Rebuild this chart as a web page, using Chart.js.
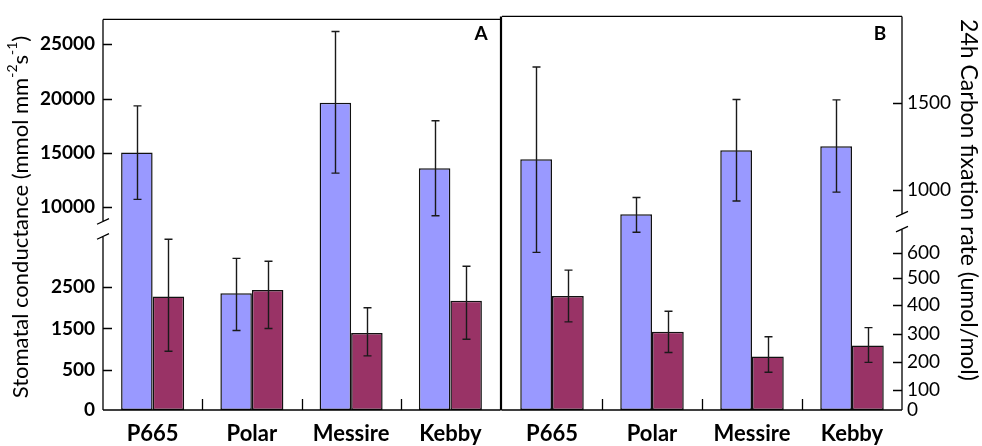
<!DOCTYPE html>
<html>
<head>
<meta charset="utf-8">
<script src="https://cdn.jsdelivr.net/npm/chart.js@4/dist/chart.umd.min.js"></script>
<style>
  html, body { margin: 0; padding: 0; background: #fff; }
  #wrap { position: relative; width: 982px; height: 446px; overflow: hidden; }
  canvas { position: absolute; top: 0; }
  #chartA { left: 0; }
  #chartB { left: 480px; }
</style>
</head>
<body>
<div id="wrap">
  <canvas id="chartA" width="502" height="446"></canvas>
  <canvas id="chartB" width="502" height="446"></canvas>
</div>
<script>
// ---- data ----
const cultivars = ['P665', 'Polar', 'Messire', 'Kebby'];

// Panel A: stomatal conductance (mmol mm-2 s-1)
const condFirst       = [15040, 2350, 19620, 13590];
const condFirstPlus   = [4290, 840, 6550, 4370];
const condFirstMinus  = [4310, 900, 6480, 4370];
const condSecond      = [2270, 2430, 1390, 2170];
const condSecondPlus  = [1380, 690, 610, 830];
const condSecondMinus = [1320, 930, 550, 930];
const condTicks       = [0, 500, 1500, 2500, 10000, 15000, 20000, 25000];

// Panel B: 24h carbon fixation rate (umol/mol)
const fixFirst       = [1177, 862, 1228, 1251];
const fixFirstPlus   = [527, 96, 290, 265];
const fixFirstMinus  = [574, 178, 290, 262];
const fixSecond      = [434, 308, 220, 259];
const fixSecondPlus  = [97, 71, 70, 63];
const fixSecondMinus = [92, 74, 56, 60];
const fixTicks       = [0, 100, 200, 300, 400, 500, 600, 1000, 1500];

// ---- styling ----
const BLUE = '#9999ff';
const WINE = '#993366';
const FONT = 'Lato, "Open Sans", sans-serif';

// Piecewise value -> axis fraction maps for the broken value axes
const AXIS_KNOTS = {
  cond: [[0, 0], [500, 0.1025], [2500, 0.3149], [3900, 0.4635], [8008, 0.4636], [25000, 0.9363], [27290, 1]],
  fix:  [[0, 0], [100, 0.0504], [200, 0.1217], [300, 0.1932], [400, 0.2662], [500, 0.3358], [600, 0.3987],
         [727, 0.4786], [820, 0.4787], [1000, 0.5584], [1500, 0.7809], [1993, 1]]
};
const BREAK_VALUE = { cond: 3900, fix: 727 };

class BrokenLinearScale extends Chart.LinearScale {
  static id = 'brokenLinear';
  knots() { return AXIS_KNOTS[this.options.knotSet]; }
  getPixelForValue(value) {
    if (value === null || value === undefined || isNaN(value)) return NaN;
    const k = this.knots();
    let i = 1;
    while (i < k.length - 1 && value > k[i][0]) i++;
    const [v0, d0] = k[i - 1], [v1, d1] = k[i];
    const d = d0 + (value - v0) * (d1 - d0) / (v1 - v0);
    return this.getPixelForDecimal(d);
  }
  getValueForPixel(pixel) {
    const d = this.getDecimalForPixel(pixel);
    const k = this.knots();
    let i = 1;
    while (i < k.length - 1 && d > k[i][1]) i++;
    const [v0, d0] = k[i - 1], [v1, d1] = k[i];
    return d1 === d0 ? v0 : v0 + (d - d0) * (v1 - v0) / (d1 - d0);
  }
}
Chart.register(BrokenLinearScale);

// error bars from the dataset's plus/minus arrays
const errorBars = {
  id: 'errorBars',
  afterDatasetsDraw(chart) {
    const ctx = chart.ctx, ys = chart.scales.y;
    ctx.save();
    ctx.strokeStyle = '#1a1a1a';
    ctx.lineWidth = 1.4;
    chart.data.datasets.forEach((ds, di) => {
      chart.getDatasetMeta(di).data.forEach((bar, i) => {
        const v = ds.data[i];
        const yt = ys.getPixelForValue(v + ds.errPlus[i]);
        const yb = ys.getPixelForValue(v - ds.errMinus[i]);
        const x = Math.round(bar.x) + 0.5;
        ctx.beginPath();
        ctx.moveTo(x, yt); ctx.lineTo(x, yb);
        ctx.moveTo(x - 4, yt); ctx.lineTo(x + 4, yt);
        ctx.moveTo(x - 4, yb); ctx.lineTo(x + 4, yb);
        ctx.stroke();
      });
    });
    ctx.restore();
  }
};

// rotated title with superscript runs
function drawRotatedTitle(ctx, parts, cx, cy, angle, size) {
  ctx.save();
  ctx.translate(cx, cy);
  ctx.rotate(angle);
  ctx.fillStyle = '#000';
  ctx.textBaseline = 'middle';
  ctx.textAlign = 'left';
  const supSize = Math.round(size * 0.62);
  let total = 0;
  parts.forEach(p => {
    ctx.font = `${p.sup ? supSize : size}px ${FONT}`;
    p.w = ctx.measureText(p.t).width;
    total += p.w;
  });
  let x = -total / 2;
  parts.forEach(p => {
    ctx.font = `${p.sup ? supSize : size}px ${FONT}`;
    ctx.fillText(p.t, x, p.sup ? -size * 0.38 : 0);
    x += p.w;
  });
  ctx.restore();
}

// frame, axis line with break marks, inner ticks, labels
function framePlugin(cfg) {
  return {
    id: 'frame',
    afterDraw(chart) {
      const ctx = chart.ctx, a = chart.chartArea;
      const ys = chart.scales.y, xs = chart.scales.x;
      const axisX = cfg.side === 'left' ? a.left : a.right;
      const inner = cfg.side === 'left' ? 1 : -1;
      const yBreak = ys.getPixelForValue(BREAK_VALUE[cfg.knotSet]);
      const gTop = yBreak - 7.5, gBot = yBreak + 7.5;
      ctx.save();
      ctx.strokeStyle = '#000';
      ctx.lineWidth = 1.3;
      ctx.beginPath();
      // top and bottom edges
      ctx.moveTo(a.left, a.top); ctx.lineTo(a.right, a.top);
      ctx.moveTo(a.left, a.bottom); ctx.lineTo(a.right, a.bottom);
      // value axis with a gap at the break
      ctx.moveTo(axisX, a.top); ctx.lineTo(axisX, gTop);
      ctx.moveTo(axisX, gBot); ctx.lineTo(axisX, a.bottom);
      // break slashes
      [gTop, gBot].forEach(yy => {
        ctx.moveTo(axisX - 6, yy + 2.8); ctx.lineTo(axisX + 6, yy - 2.8);
      });
      // inner ticks
      ys.ticks.forEach(t => {
        if (t.value === 0) return;
        const py = Math.round(ys.getPixelForValue(t.value)) + 0.5;
        ctx.moveTo(axisX, py); ctx.lineTo(axisX + inner * 9, py);
      });
      // category boundary ticks on the base line
      for (let i = 0; i < cultivars.length - 1; i++) {
        const bx = Math.round((xs.getPixelForTick(i) + xs.getPixelForTick(i + 1)) / 2) + 0.5;
        ctx.moveTo(bx, a.bottom); ctx.lineTo(bx, a.bottom - 11);
      }
      ctx.stroke();
      // thick divider between the panels
      if (cfg.side === 'right') {
        ctx.lineWidth = 2.2;
        ctx.beginPath();
        ctx.moveTo(a.left - 1, a.top); ctx.lineTo(a.left - 1, a.bottom + 0.6);
        ctx.stroke();
      }
      // panel letter
      ctx.fillStyle = '#000';
      ctx.font = `bold 19px ${FONT}`;
      ctx.textAlign = 'center';
      ctx.textBaseline = 'middle';
      ctx.fillText(cfg.letter, cfg.letterX, 34);
      ctx.restore();
      drawRotatedTitle(ctx, cfg.title, cfg.titleX, cfg.titleY, cfg.titleAngle, cfg.titleSize);
    }
  };
}

function barSet(values, plus, minus, color) {
  return {
    data: values, errPlus: plus, errMinus: minus,
    backgroundColor: color, borderColor: '#111', borderWidth: 1.5, borderSkipped: false,
    categoryPercentage: 0.635, barPercentage: 1
  };
}

function makeOptions(cfg) {
  return {
    responsive: false,
    animation: false,
    events: [],
    layout: { padding: cfg.padding },
    plugins: { legend: { display: false }, tooltip: { enabled: false } },
    scales: {
      x: {
        grid: { display: false, drawTicks: false },
        border: { display: false },
        ticks: { color: '#000', font: { family: FONT, size: 22, weight: 'bold' }, padding: 11 },
        afterFit(s) { s.height = 36; }
      },
      y: {
        type: 'brokenLinear',
        knotSet: cfg.knotSet,
        position: cfg.side,
        min: 0,
        max: AXIS_KNOTS[cfg.knotSet][AXIS_KNOTS[cfg.knotSet].length - 1][0],
        grid: { display: false, drawTicks: false },
        border: { display: false },
        afterBuildTicks(s) { s.ticks = cfg.ticks.map(v => ({ value: v })); },
        ticks: {
          autoSkip: false,
          color: '#000',
          padding: cfg.tickPad,
          font: { family: FONT, size: cfg.tickSize, weight: cfg.tickWeight },
          callback: v => String(v)
        },
        afterFit(s) { s.width = cfg.axisWidth; }
      }
    }
  };
}

new Chart(document.getElementById('chartA'), {
  type: 'bar',
  data: {
    labels: cultivars,
    datasets: [
      barSet(condFirst, condFirstPlus, condFirstMinus, BLUE),
      barSet(condSecond, condSecondPlus, condSecondMinus, WINE)
    ]
  },
  options: makeOptions({
    knotSet: 'cond', side: 'left', ticks: condTicks, tickPad: 8, tickWeight: 'bold', tickSize: 19,
    axisWidth: 103, padding: { top: 13, right: 2, left: 0, bottom: 0 }
  }),
  plugins: [errorBars, framePlugin({
    side: 'left', knotSet: 'cond', letter: 'A', letterX: 481,
    titleX: 21, titleY: 217, titleAngle: -Math.PI / 2, titleSize: 22,
    title: [{ t: 'Stomatal conductance (mmol mm' }, { t: '-2', sup: true }, { t: 's' }, { t: '-1', sup: true }, { t: ')' }]
  })]
});

new Chart(document.getElementById('chartB'), {
  type: 'bar',
  data: {
    labels: cultivars,
    datasets: [
      barSet(fixFirst, fixFirstPlus, fixFirstMinus, BLUE),
      barSet(fixSecond, fixSecondPlus, fixSecondMinus, WINE)
    ]
  },
  options: makeOptions({
    knotSet: 'fix', side: 'right', ticks: fixTicks, tickPad: 5, tickWeight: 'normal', tickSize: 19,
    axisWidth: 80, padding: { top: 13, right: 0, left: 22, bottom: 0 }
  }),
  plugins: [errorBars, framePlugin({
    side: 'right', knotSet: 'fix', letter: 'B', letterX: 400,
    titleX: 488, titleY: 200, titleAngle: Math.PI / 2, titleSize: 23,
    title: [{ t: '24h Carbon fixation rate (umol/mol)' }]
  })]
});
</script>
</body>
</html>
